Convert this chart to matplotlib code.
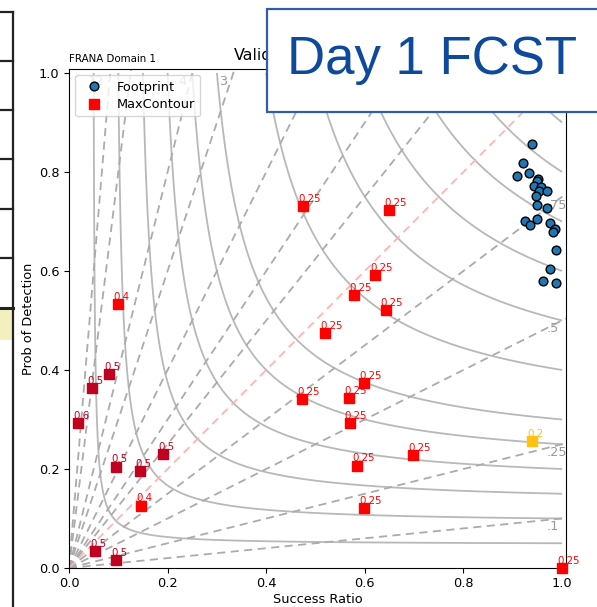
import numpy as np
import matplotlib
matplotlib.use("Agg")
import matplotlib.pyplot as plt
from matplotlib.patches import Rectangle
from matplotlib.lines import Line2D

# ---------------- data ----------------
fp_sr = [0.939, 0.920, 0.909, 0.932, 0.952, 0.950, 0.944, 0.957, 0.954, 0.970,
         0.947, 0.950, 0.969, 0.949, 0.924, 0.934, 0.976, 0.986, 0.982, 0.987,
         0.975, 0.961, 0.987]
fp_pod = [0.857, 0.818, 0.792, 0.797, 0.785, 0.781, 0.772, 0.769, 0.762, 0.762,
          0.752, 0.733, 0.727, 0.705, 0.701, 0.692, 0.696, 0.685, 0.679, 0.643,
          0.604, 0.580, 0.576]

mc_sr = [0.018, 0.046, 0.081, 0.096, 0.145, 0.190, 0.053, 0.095,
         0.099, 0.147,
         0.475, 0.650, 0.621, 0.578, 0.642, 0.519, 0.599, 0.473, 0.568,
         0.569, 0.697, 0.585, 0.598, 1.0,
         0.940]
mc_pod = [0.292, 0.364, 0.391, 0.205, 0.195, 0.230, 0.034, 0.016,
          0.533, 0.126,
          0.731, 0.723, 0.592, 0.552, 0.521, 0.475, 0.374, 0.341, 0.343,
          0.292, 0.228, 0.207, 0.121, 0.0,
          0.257]
mc_thr = ["0.6", "0.5", "0.5", "0.5", "0.5", "0.5", "0.5", "0.5",
          "0.4", "0.4",
          "0.25", "0.25", "0.25", "0.25", "0.25", "0.25", "0.25", "0.25", "0.25",
          "0.25", "0.25", "0.25", "0.25", "0.25",
          "0.2"]
thr_colors = {"0.2": "#FFC20E", "0.25": "#FF0000", "0.4": "#FF0000",
              "0.5": "#C0001E", "0.6": "#C0001E"}

csi_levels = [0.05, 0.1, 0.15, 0.2, 0.25, 0.3, 0.4, 0.5, 0.6, 0.7, 0.8, 0.9]
bias_low = [0.1, 0.25, 0.5, 0.75]
bias_high = [1.25, 1.5, 2, 3, 4, 8, 12]
bias_low_labels = [".1", ".25", ".5", ".75"]
bias_high_labels = ["1.25", "1.5", "2", "3", "4", "8", "12"]
bias_high_shown = [False, False, False, True, True, False, True]

# ---------------- figure ----------------
W, H = 597, 607
fig = plt.figure(figsize=(W / 100, H / 100), dpi=100)
ax = fig.add_axes([69 / W, 1 - 568 / H, 497 / W, 499 / H])
ax.set_xlim(0, 1.008)
ax.set_ylim(0, 1.008)

fs = 9.3
grey = "#ababab"

# CSI contours
g = np.arange(0.005, 1.0001, 0.005)
sr_g, pod_g = np.meshgrid(g, g)
csi = 1.0 / (1.0 / sr_g + 1.0 / pod_g - 1.0)
ax.contour(sr_g, pod_g, csi, levels=csi_levels, colors="#b8b8b8",
           linewidths=1.3, linestyles="solid", zorder=1)

# bias lines
for b in bias_low + bias_high:
    ax.axline((0, 0), slope=b, color=grey, lw=1.3, ls=(0, (4.5, 3)), zorder=1)
ax.axline((0, 0), slope=1.0, color="#ffb4b4", lw=1.3, ls=(0, (4.5, 3)), zorder=1)

for b, lab in zip(bias_low, bias_low_labels):
    ax.text(0.968, b - 0.004, lab, color="#999999", fontsize=fs, ha="left",
            va="top", zorder=2)
for b, lab, show in zip(bias_high, bias_high_labels, bias_high_shown):
    if show:
        ax.text(1.0 / b - 0.012, 0.995, lab, color="#999999", fontsize=fs,
                ha="right", va="top", zorder=2)

# footprint points
ax.plot(fp_sr, fp_pod, "o", color="#1f77b4", mec="black", mew=1.0, ms=6.3,
        ls="none", zorder=4, label="Footprint")

# MaxContour points
for x, y, t in zip(mc_sr, mc_pod, mc_thr):
    c = thr_colors[t]
    ax.plot([x], [y], "s", color=c, ms=6.8, ls="none", zorder=5, clip_on=False)
    ax.annotate(t, (x, y), xytext=(-3.4, 1.6), textcoords="offset points",
                color=c, fontsize=7.4, ha="left", va="bottom", zorder=6,
                annotation_clip=False)

leg_handles = [Line2D([], [], marker="o", color="#1f77b4", mec="black", mew=1.0,
                      ms=6.3, ls="none"),
               Line2D([], [], marker="s", color="#FF0000", ms=6.8, ls="none")]
ax.legend(leg_handles, ["Footprint", "MaxContour"], loc="upper left",
          fontsize=fs, framealpha=0.8, borderpad=0.4, handletextpad=0.8,
          labelspacing=0.35)

ax.set_xticks([0, 0.2, 0.4, 0.6, 0.8, 1.0])
ax.set_yticks([0, 0.2, 0.4, 0.6, 0.8, 1.0])
ax.tick_params(labelsize=fs, length=3.3)
ax.set_xlabel("Success Ratio", fontsize=fs, labelpad=2)
ax.set_ylabel("Prob of Detection", fontsize=fs, labelpad=3)
ax.set_title("FRANA Domain 1", loc="left", fontsize=7.4, pad=5)
ax.text(0.332, 1.012, "Valid", transform=ax.transAxes, fontsize=11.4,
        ha="left", va="bottom")

# ---------------- slide overlay ----------------
fig.patches.append(Rectangle((267 / W, 1 - 112 / H), (600 - 267) / W,
                             (112 - 9) / H, transform=fig.transFigure,
                             facecolor="white", edgecolor="#2F5EA8",
                             linewidth=1.6, zorder=10))
fig.text(432 / W, 1 - 60 / H, "Day 1 FCST", fontsize=38,
         family="Liberation Sans", color="#0E4A9C", ha="center",
         va="center", zorder=11)

# left table edge of neighbouring slide content
fig.add_artist(Line2D([13 / W, 13 / W], [0, 1 - 12 / H], color="#222222",
                      lw=1.6, transform=fig.transFigure))
for yy in [12, 61, 110, 159, 209, 258, 308]:
    fig.add_artist(Line2D([0, 13 / W], [1 - yy / H, 1 - yy / H],
                          color="#222222", lw=1.6 if yy != 308 else 2.2,
                          transform=fig.transFigure))
fig.patches.append(Rectangle((0, 1 - 340 / H), 12 / W, 30 / H,
                             transform=fig.transFigure, facecolor="#f3f0c0",
                             edgecolor="none"))

fig.savefig("out.png", dpi=100)
